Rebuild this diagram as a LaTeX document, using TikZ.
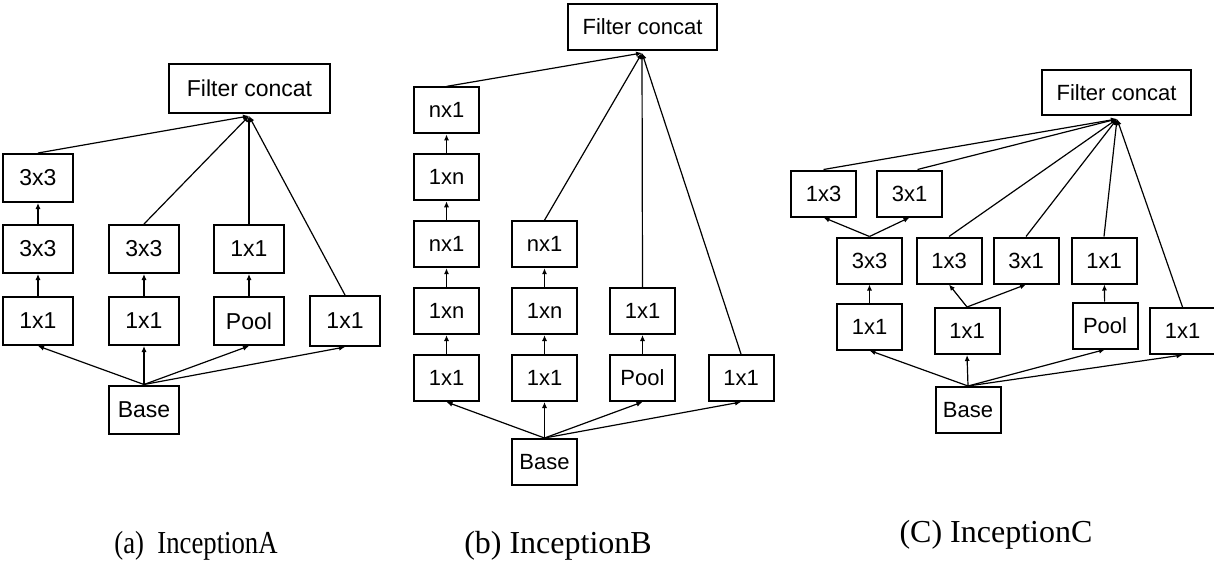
\documentclass[tikz,border=0pt]{standalone}
\usepackage{fontspec}
\setmainfont{Liberation Serif}
\setsansfont{Liberation Sans}
\usetikzlibrary{arrows.meta}

\tikzset{
	blk/.style={draw=black,line width=1pt,inner sep=0pt,font=\sffamily\fontsize{11}{13}\selectfont,
		minimum width=32.5pt,minimum height=23pt},
	blkA/.style={blk,minimum width=35pt,minimum height=24pt,font=\sffamily\fontsize{11.5}{13}\selectfont},
	cat/.style={blk,minimum width=74.5pt},
	lnk/.style={line width=0.6pt,-{Latex[length=3pt,width=2.6pt]}},
	subcap/.style={anchor=base,font=\fontsize{16}{18}\selectfont},
}

\begin{document}
\begin{tikzpicture}[
		x={(0.5pt,0pt)},
		y={(0pt,-0.5pt)},
	]
		\useasboundingbox (0,0) rectangle (1214,562);
		
		% (a) InceptionA
		\node[cat,minimum width=80.5pt,minimum height=24.5pt,font=\sffamily\fontsize{11.5}{13}\selectfont] (catA) at (249.5,88.5) {Filter concat};
		\coordinate (jA) at (249,116);
		\node[blkA] (a13) at (38,178) {3x3};
		\node[blkA] (a12) at (38,249) {3x3};
		\node[blkA] (a11) at (38,321) {1x1};
		\node[blkA] (a22) at (144,249) {3x3};
		\node[blkA] (a21) at (144,321) {1x1};
		\node[blkA] (a32) at (249,249) {1x1};
		\node[blkA] (a31) at (249,321) {Pool};
		\node[blkA,minimum height=25pt] (a41) at (345,321) {1x1};
		\node[blkA] (baseA) at (144,409.5) {Base};
		
		\foreach \n in {a11,a21,a31,a41}{
			\draw[lnk] (baseA.north) -- (\n.south);
		}
		\draw[lnk] (a11) -- (a12);
		\draw[lnk] (a12) -- (a13);
		\draw[lnk] (a21) -- (a22);
		\draw[lnk] (a31) -- (a32);
		\foreach \n in {a13,a22,a32,a41}{
			\draw[lnk] (\n.north) -- (jA);
		}
		\node[subcap] (capA) at (196,553) {\scalebox{0.835}[1]{(a)\ \ InceptionA}};
		
		% (b) InceptionB
		\node[cat,minimum height=23pt] (catB) at (642.5,27) {Filter concat};
		\coordinate (jB) at (642,53);
		\foreach \t [count=\i] in {nx1,1xn,nx1,1xn,1x1}{
			\node[blk] (b1\i) at (446.5,{43.5+66.9*\i}) {\t};
		}
		\foreach \t [count=\i from 3] in {nx1,1xn,1x1}{
			\node[blk] (b2\i) at (544.5,{43.5+66.9*\i}) {\t};
		}
		\node[blk] (b34) at (642.5,311) {1x1};
		\node[blk] (b35) at (642.5,378) {Pool};
		\node[blk] (b45) at (741,378) {1x1};
		\node[blk] (baseB) at (544.5,462) {Base};
		
		\foreach \n in {b15,b25,b35,b45}{
			\draw[lnk] (baseB.north) -- (\n.south);
		}
		\foreach \a/\b in {b15/b14,b14/b13,b13/b12,b12/b11,b25/b24,b24/b23,b35/b34}{
			\draw[lnk] (\a) -- (\b);
		}
		\foreach \n in {b11,b23,b34,b45}{
			\draw[lnk] (\n.north) -- (jB);
		}
		\node[subcap] (capB) at (558,553) {(b) InceptionB};
		
		% (C) InceptionC
		\node[cat,minimum height=22.5pt] (catC) at (1116.5,92.5) {Filter concat};
		\coordinate (jC) at (1117,119);
		\node[blk] (c31) at (823.5,193.5) {1x3};
		\node[blk] (c32) at (909.5,193.5) {3x1};
		\node[blk] (c21) at (869.5,260.5) {3x3};
		\node[blk] (c22) at (949,260.5) {1x3};
		\node[blk] (c23) at (1026,260.5) {3x1};
		\node[blk] (c24) at (1104,260.5) {1x1};
		\node[blk] (c11) at (869.5,326.5) {1x1};
		\node[blk] (c12) at (967,331) {1x1};
		\node[blk] (c13) at (1105,325.5) {Pool};
		\node[blk] (c14) at (1182.5,331) {1x1};
		\node[blk] (baseC) at (968,410) {Base};
		
		\foreach \n in {c11,c12,c13,c14}{
			\draw[lnk] (baseC.north) -- (\n.south);
		}
		\draw[lnk] (c11) -- (c21);
		\draw[lnk] (c13) -- (c24);
		\draw[lnk] (c12.north) -- (c22.south);
		\draw[lnk] (c12.north) -- (c23.south);
		\draw[lnk] (c21.north) -- (c31.south);
		\draw[lnk] (c21.north) -- (c32.south);
		\draw[lnk] (c31.north) -- (jC);
		\draw[lnk] ([xshift=4pt]c32.north) -- (jC);
		\foreach \n in {c22,c23,c24,c14}{
			\draw[lnk] (\n.north) -- (jC);
		}
		\node[subcap] (capC) at (996,542) {(C) InceptionC};
	\end{tikzpicture}
\end{document}
